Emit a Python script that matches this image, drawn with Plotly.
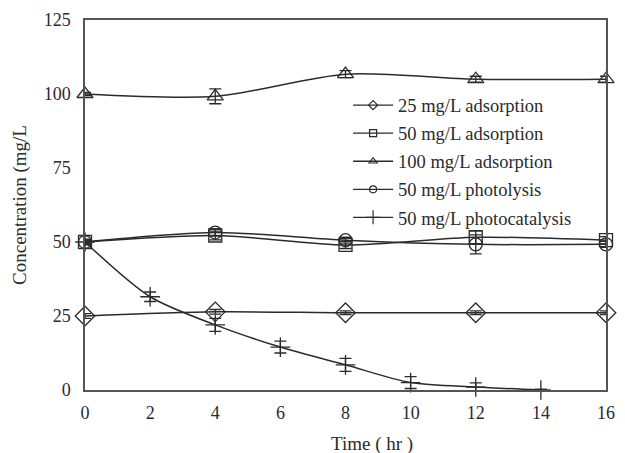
import plotly.graph_objects as go

# Sampling times (hr)
t_ads = [0, 4, 8, 12, 16]
t_cat = [0, 2, 4, 6, 8, 10, 12, 14]

# Concentrations (mg/L)
ads25 = [25, 26.4, 26.1, 26.1, 26.1]
ads50 = [50, 52.2, 49.0, 51.6, 50.6]
ads100 = [100, 99.2, 106.7, 105.0, 105.0]
photolysis = [50, 53.2, 50.6, 49.2, 49.2]
photocat = [50, 31.5, 22.0, 14.5, 8.5, 2.5, 1.0, 0.0]

# Standard deviations for the error bars
ads25_err = [0.8, 0.8, 0.6, 0.6, 0.6]
ads50_err = [1.0, 1.5, 1.2, 2.2, 1.2]
ads100_err = [0.5, 2.5, 1.2, 1.0, 1.0]
photolysis_err = [0.8, 1.2, 1.0, 3.2, 1.0]
photocat_err = [0.5, 1.6, 2.2, 2.0, 2.2, 2.0, 1.4, 0.3]

names = [
    "25 mg/L adsorption",
    "50 mg/L adsorption",
    "100 mg/L adsorption",
    "50 mg/L photolysis",
    "50 mg/L photocatalysis",
]

ink = "#2b2b2b"
font_family = "Liberation Serif"

series = [
    (t_ads, ads25, ads25_err, "diamond-open", 15),
    (t_ads, ads50, ads50_err, "square-open", 13),
    (t_ads, ads100, ads100_err, "triangle-up-open", 14),
    (t_ads, photolysis, photolysis_err, "circle-open", 13),
    (t_cat, photocat, photocat_err, "cross-thin-open", 14),
]

fig = go.Figure()
for i, (x, y, e, sym, sz) in enumerate(series):
    fig.add_trace(go.Scatter(
        x=x, y=y, name=names[i], mode="lines+markers",
        showlegend=False,
        line=dict(color=ink, width=1.5, shape="spline", smoothing=0.8),
        marker=dict(symbol=sym, size=sz, color=ink,
                    line=dict(color=ink, width=1.3)),
        error_y=dict(type="data", array=e, visible=True,
                     color=ink, thickness=1.3, width=6),
        cliponaxis=False,
    ))

# Legend entries use smaller marker glyphs than the plotted points
for i, (x, y, e, sym, sz) in enumerate(series):
    fig.add_trace(go.Scatter(
        x=[None], y=[None], name=names[i], mode="lines+markers",
        legendgroup=f"g{i}",
        line=dict(color=ink, width=1.3),
        marker=dict(symbol=sym, size=7 if sym != "cross-thin-open" else 10,
                    color=ink, line=dict(color=ink, width=1.2)),
    ))

fig.update_layout(
    width=625, height=453,
    margin=dict(l=85, r=10, t=20, b=63),
    paper_bgcolor="white", plot_bgcolor="white",
    font=dict(family=font_family, size=18, color=ink),
    showlegend=True,
    legend=dict(
        x=0.505, y=0.82, xanchor="left", yanchor="top",
        bgcolor="rgba(0,0,0,0)", borderwidth=0,
        font=dict(family=font_family, size=18.5, color=ink),
        tracegroupgap=1, itemwidth=40,
    ),
    xaxis=dict(
        range=[0, 16], tickvals=list(range(0, 17, 2)),
        showgrid=False, zeroline=False, showline=True, mirror=True,
        linecolor="#555", linewidth=1.5, ticks="",
        ticklabelstandoff=6,
        tickfont=dict(family=font_family, size=18, color=ink),
    ),
    yaxis=dict(
        range=[0, 125], tickvals=[0, 25, 50, 75, 100, 125],
        showgrid=False, zeroline=False, showline=True, mirror=True,
        linecolor="#555", linewidth=1.5, ticks="",
        ticklabelstandoff=9,
        tickfont=dict(family=font_family, size=18, color=ink),
        title=dict(text="Concentration (mg/L", standoff=12,
                   font=dict(family=font_family, size=19, color=ink)),
    ),
    annotations=[dict(
        text="Time ( hr )", xref="paper", yref="paper",
        x=0.55, y=-0.112, xanchor="center", yanchor="top",
        showarrow=False,
        font=dict(family=font_family, size=19, color=ink),
    )],
)

fig.write_html("out.html")
